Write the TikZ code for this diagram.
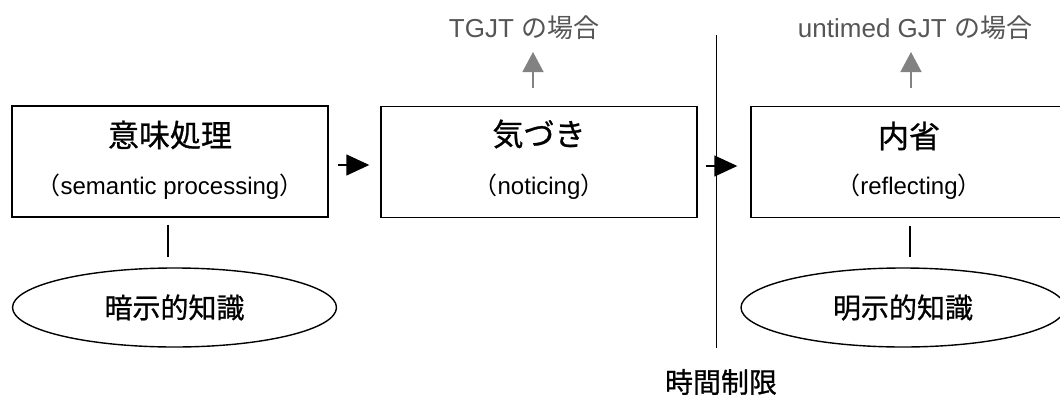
\documentclass[tikz,border=0pt]{standalone}
\usepackage{fontspec}
\setmainfont{Liberation Sans}
\newfontfamily\jp{Noto Sans CJK JP}
\newfontfamily\jpb[FakeBold=0.8]{Noto Sans CJK JP}
\usetikzlibrary{arrows.meta,shapes.geometric}
\definecolor{graytext}{RGB}{85,85,85}
\definecolor{grayarrow}{RGB}{130,130,130}
\begin{document}
\begin{tikzpicture}[x=1pt,y=-1pt,
  stagebox/.style={draw,line width=1.4pt,rectangle,minimum width=316pt,minimum height=111pt,inner sep=0pt},
  title/.style={font=\jpb\fontsize{31}{31}\selectfont,inner sep=0pt},
  sub/.style={font=\fontsize{24}{24}\selectfont,inner sep=0pt},
  know/.style={draw,line width=1.4pt,ellipse,minimum width=324pt,minimum height=79pt,inner sep=0pt,font=\jpb\fontsize{28}{28}\selectfont},
  case/.style={font=\fontsize{26}{26}\selectfont,text=graytext,inner sep=0pt},
  flow/.style={line width=1.4pt,-{Triangle[length=23pt,width=21pt]}},
  grayflow/.style={line width=1.4pt,draw=grayarrow,-{Triangle[length=20pt,width=21pt,fill=grayarrow]}},
  link/.style={line width=1.4pt}]
\clip (0,0) rectangle (1060,394);
\useasboundingbox (0,0) rectangle (1060,394);
% boxes
\node[stagebox] (b1) at (170,161.5) {};
\node[stagebox] (b2) at (539,162) {};
\node[stagebox] (b3) at (909,162) {};
\node[title] (t1) at (170,135) {意味処理};
\node[sub] (s1) at (170,187) {{\jp（}semantic processing{\jp）}};
\node[title] (t2) at (539,134) {気づき};
\node[sub] (s2) at (539,187) {{\jp（}noticing{\jp）}};
\node[title] (t3) at (909,136) {内省};
\node[sub] (s3) at (909,187) {{\jp（}reflecting{\jp）}};
% ellipses
\node[know] (e1) at (174.5,307.5) {暗示的知識};
\node[know] (e2) at (903,307.5) {明示的知識};
% top labels
\node[case] (c2) at (524,28) {TGJT {\jp の場合}};
\node[case] (c3) at (915,28) {untimed GJT {\jp の場合}};
% time limit line
\coordinate (tl1) at (716.5,35);
\coordinate (tl2) at (716.5,348);
\node[font=\jpb\fontsize{28}{28}\selectfont,inner sep=0pt] (tlabel) at (721,382) {時間制限};
\draw[link] (tl1) -- (tl2);
% arrows
\draw[flow,shorten <=9pt,shorten >=11pt] (b1.east |- 0,165) -- (b2.west |- 0,165);
\draw[flow,shorten <=8pt,shorten >=13pt] (b2.east |- 0,166) -- (b3.west |- 0,166);
\coordinate (g2b) at (533,107);
\coordinate (g2t) at (533,52);
\draw[grayflow,shorten <=19pt] (g2b) -- (g2t);
\coordinate (g3b) at (911,107);
\coordinate (g3t) at (911,52);
\draw[grayflow,shorten <=19pt] (g3b) -- (g3t);
% links to knowledge
\draw[link,shorten <=7pt,shorten >=10pt] (b1.south -| 168,0) -- (e1.north -| 168,0);
\draw[link,shorten <=8pt,shorten >=10pt] (b3.south -| 910,0) -- (e2.north -| 910,0);
\end{tikzpicture}
\end{document}
